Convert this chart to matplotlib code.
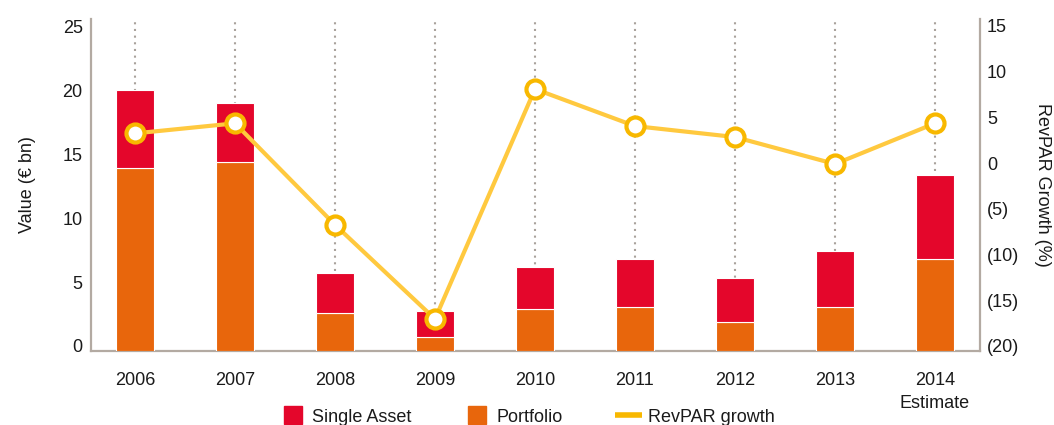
import matplotlib
matplotlib.use("Agg")
import matplotlib.pyplot as plt
import matplotlib.transforms as mtransforms
from matplotlib.lines import Line2D
import numpy as np

plt.rcParams['font.family'] = ['Liberation Sans', 'DejaVu Sans']

# data
years = ['2006', '2007', '2008', '2009', '2010', '2011', '2012', '2013', '2014\nEstimate']
portfolio = [14.3, 14.8, 3.0, 1.1, 3.3, 3.4, 2.3, 3.4, 7.2]
total = [20.4, 19.4, 6.1, 3.1, 6.6, 7.2, 5.7, 7.8, 13.75]
single_asset = [t - p for t, p in zip(total, portfolio)]
revpar = [3.8, 4.9, -6.2, -16.5, 8.65, 4.6, 3.4, 0.45, 4.9]

left_ticks = [0, 5, 10, 15, 20, 25]
right_ticks = [-20, -15, -10, -5, 0, 5, 10, 15]
right_labels = ['(20)', '(15)', '(10)', '(5)', '0', '5', '10', '15']

RED = '#e4062b'
ORANGE = '#e8660c'
LINE = '#ffc93f'
MARK = '#f8b800'
SPINE = '#b3aaa2'
GRID = '#a9a29c'
TXT = '#1a1a1a'

fig = plt.figure(figsize=(10.54, 4.25), dpi=100)
ax = fig.add_axes([91 / 1054, 1 - 351 / 425, 889 / 1054, 332 / 425])
ax2 = ax.twinx()

x = np.arange(len(years))
w = 0.38
ax.bar(x, portfolio, w, color=ORANGE, edgecolor='white', linewidth=0.8, zorder=3)
ax.bar(x, single_asset, w, bottom=portfolio, color=RED, edgecolor='white', linewidth=0.8, zorder=3)

ax.set_xlim(-0.44, 8.45)
ax.set_ylim(0, 25.94)
ax.set_yticks(left_ticks)
ax.set_xticks(x)
ax.set_xticklabels(years, linespacing=1.45)
ax.grid(axis='x', color=GRID, linestyle=(0, (1, 2.2)), linewidth=1.5, zorder=0)
ax.set_axisbelow(True)

ax2.plot(x, revpar, color=LINE, linewidth=3, marker='o', markersize=13,
         markerfacecolor='white', markeredgecolor=MARK, markeredgewidth=3, zorder=5)
ax2.set_ylim(-20, 16.31)
ax2.set_yticks(right_ticks)
ax2.set_yticklabels(right_labels)

for a in (ax, ax2):
    for s in a.spines.values():
        s.set_visible(False)
ax.spines['left'].set_visible(True)
ax.spines['bottom'].set_visible(True)
ax2.spines['right'].set_visible(True)
for s in (ax.spines['left'], ax.spines['bottom'], ax2.spines['right']):
    s.set_color(SPINE)
    s.set_linewidth(1.6)

ax.tick_params(axis='x', length=0, pad=15, labelsize=13, colors=TXT)
ax.tick_params(axis='y', length=0, pad=6, labelsize=13, colors=TXT)
ax2.tick_params(axis='y', length=0, pad=5, labelsize=13, colors=TXT)

# labels in the reference sit a little above their ticks
up = mtransforms.ScaledTranslation(0, 5 / 100, fig.dpi_scale_trans)
for lbl in ax.get_yticklabels() + ax2.get_yticklabels():
    lbl.set_transform(lbl.get_transform() + up)

fig.text(27 / 1054, 1 - 185 / 425, 'Value (€ bn)', rotation=90, ha='center', va='center',
         fontsize=13, color=TXT)
fig.text(1043 / 1054, 1 - 185 / 425, 'RevPAR Growth (%)', rotation=270, ha='center', va='center',
         fontsize=13, color=TXT)

handles = [
    Line2D([], [], marker='s', linestyle='', markersize=13, color=RED),
    Line2D([], [], marker='s', linestyle='', markersize=13, color=ORANGE),
    Line2D([], [], color=MARK, linewidth=4, solid_capstyle='butt'),
]
fig.legend(handles, ['Single Asset', 'Portfolio', 'RevPAR growth'], loc='center',
           bbox_to_anchor=(0.5, 1 - 417 / 425), ncol=3, frameon=False, fontsize=13,
           handlelength=1.5, handletextpad=0.3, columnspacing=2.9, borderpad=0,
           labelcolor=TXT)

fig.savefig('out.png', dpi=100)
